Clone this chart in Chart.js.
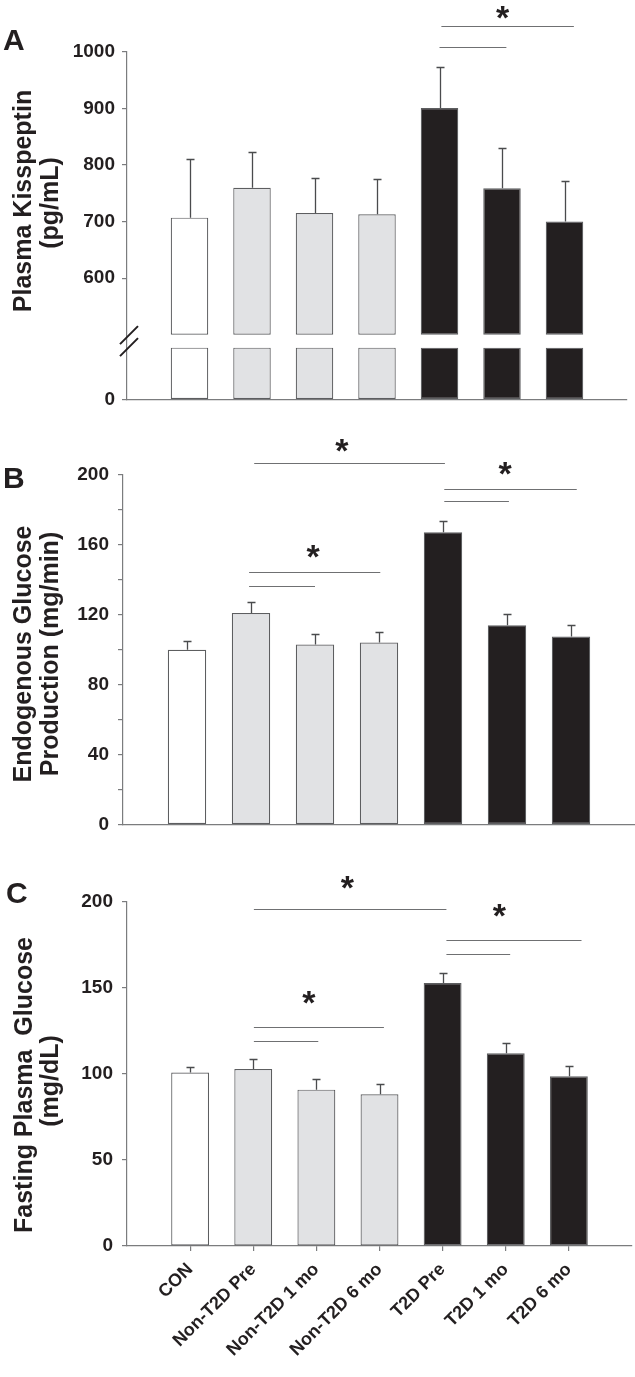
<!DOCTYPE html>
<html>
<head>
<meta charset="utf-8">
<script src="https://cdn.jsdelivr.net/npm/chart.js@4.4.1/dist/chart.umd.min.js"></script>
<style>
  html, body { margin: 0; padding: 0; background: #ffffff; }
  #wrap { position: relative; width: 635px; height: 1377px; overflow: hidden; }
  canvas { position: absolute; left: 0; }
</style>
</head>
<body>
<div id="wrap">
  <canvas id="cA" width="635" height="418" style="top:0px"></canvas>
  <canvas id="cB" width="635" height="427" style="top:418px"></canvas>
  <canvas id="cC" width="635" height="532" style="top:845px"></canvas>
</div>
<script>
// ---------------- DATA ----------------
const categories = ['CON', 'Non-T2D Pre', 'Non-T2D 1 mo', 'Non-T2D 6 mo', 'T2D Pre', 'T2D 1 mo', 'T2D 6 mo'];

// Panel A: Plasma Kisspeptin (pg/mL)
const kisspeptinMean = [707, 760, 715, 713, 901, 759, 700];
const kisspeptinSem  = [103, 63, 63, 63, 72, 71, 71];
const kisspeptinTicks = [0, 600, 700, 800, 900, 1000];

// Panel B: Endogenous Glucose Production (mg/min)
const egpMean = [100, 121, 103, 104.2, 167.3, 114.1, 107.6];
const egpSem  = [5.3, 6.2, 5.9, 5.8, 6.5, 6.5, 6.5];

// Panel C: Fasting Plasma Glucose (mg/dL)
const fpgMean = [100.8, 102.9, 90.9, 88.2, 152.9, 112, 98.7];
const fpgSem  = [3.1, 5.8, 6.0, 5.8, 5.8, 6.0, 6.0];

// Significance brackets: [from category position, to category position, y value]
const kissBrackets = [[5.0, 6.07, 1009], [5.03, 7.15, 1046]];
const kissStars    = [[6.01, 1069]];
const egpBrackets  = [[2.05, 5.03, 206.7], [5.02, 7.09, 192.2], [5.02, 6.03, 184.9], [1.97, 4.02, 144.5], [1.97, 3.0, 136.7]];
const egpStars     = [[3.42, 216.8], [5.97, 203.9], [2.97, 156.3]];
const fpgBrackets  = [[2.01, 5.06, 195.9], [5.06, 7.2, 178.1], [5.06, 6.07, 169.8], [2.01, 4.07, 127.1], [2.01, 3.03, 119]];
const fpgStars     = [[3.49, 211.6], [5.9, 194.8], [2.88, 144.2]];

// ---------------- STYLE ----------------
const groupFill = ['#ffffff', '#e1e2e4', '#e1e2e4', '#e1e2e4', '#231f20', '#231f20', '#231f20'];
const BAR_BORDER = '#5d5e60';
const AXIS = '#7b7c7e';
const TEXT = '#231f20';
const FONT = "'Liberation Sans', Arial, sans-serif";

// ---------------- BROKEN AXIS SCALE (panel A) ----------------
class BrokenScale extends Chart.LinearScale {
  _dec(v) {
    const o = this.options.broken;
    const hi = 1 - o.lowFrac - o.gapFrac;
    if (v <= o.lowMax) return v / o.lowMax * o.lowFrac;
    if (v < o.highMin) return o.lowFrac + (v - o.lowMax) / (o.highMin - o.lowMax) * o.gapFrac;
    return o.lowFrac + o.gapFrac + (v - o.highMin) / (this.max - o.highMin) * hi;
  }
  getPixelForValue(v) {
    if (v === null || v === undefined) return NaN;
    return this.getPixelForDecimal(this._dec(v));
  }
  getValueForPixel(p) {
    const o = this.options.broken;
    const d = this.getDecimalForPixel(p);
    const hi = 1 - o.lowFrac - o.gapFrac;
    if (d <= o.lowFrac) return d / o.lowFrac * o.lowMax;
    if (d < o.lowFrac + o.gapFrac) return o.lowMax + (d - o.lowFrac) / o.gapFrac * (o.highMin - o.lowMax);
    return o.highMin + (d - o.lowFrac - o.gapFrac) / hi * (this.max - o.highMin);
  }
}
BrokenScale.id = 'broken';
BrokenScale.defaults = Chart.LinearScale.defaults;
Chart.register(BrokenScale);

// ---------------- PLUGIN: error bars, brackets, stars, labels ----------------
const annotPlugin = {
  id: 'annot',
  afterDatasetsDraw(chart, args, o) {
    const ctx = chart.ctx, xs = chart.scales.x, ys = chart.scales.y;
    ctx.save();
    // error bars (upper only)
    ctx.strokeStyle = '#4a4b4d';
    ctx.lineWidth = 1.3;
    o.mean.forEach((m, i) => {
      const x = Math.round(xs.getPixelForValue(i + 1)) + 0.5;
      const y0 = ys.getPixelForValue(m);
      const y1 = Math.round(ys.getPixelForValue(m + o.sem[i])) + 0.5;
      ctx.beginPath();
      ctx.moveTo(x, y0); ctx.lineTo(x, y1);
      ctx.moveTo(x - 4, y1); ctx.lineTo(x + 4, y1);
      ctx.stroke();
    });
    // significance brackets
    ctx.strokeStyle = '#6f7072';
    ctx.lineWidth = 1.2;
    o.brackets.forEach(([a, b, v]) => {
      const y = Math.round(ys.getPixelForValue(v)) + 0.5;
      ctx.beginPath();
      ctx.moveTo(xs.getPixelForValue(a), y);
      ctx.lineTo(xs.getPixelForValue(b), y);
      ctx.stroke();
    });
    // stars
    ctx.fillStyle = TEXT;
    ctx.font = 'bold 34px ' + FONT;
    ctx.textAlign = 'center';
    ctx.textBaseline = 'alphabetic';
    const m = ctx.measureText('*');
    const off = (m.actualBoundingBoxAscent - m.actualBoundingBoxDescent) / 2;
    o.stars.forEach(([a, v]) => {
      ctx.fillText('*', xs.getPixelForValue(a), ys.getPixelForValue(v) + off);
    });
    // axis break marks
    if (o.breakMarks) {
      const ax = ys.right;
      const c = (ys.getPixelForValue(ys.options.broken.lowMax) + ys.getPixelForValue(ys.options.broken.highMin)) / 2;
      ctx.strokeStyle = TEXT;
      ctx.lineWidth = 2;
      ctx.beginPath();
      ctx.moveTo(ax - 7, c + 3); ctx.lineTo(ax + 11, c - 15);
      ctx.moveTo(ax - 7, c + 15); ctx.lineTo(ax + 11, c - 3);
      ctx.stroke();
    }
    ctx.restore();
  },
  afterDraw(chart, args, o) {
    const ctx = chart.ctx;
    ctx.save();
    ctx.fillStyle = TEXT;
    // panel letter
    ctx.font = 'bold 30px ' + FONT;
    ctx.textAlign = 'left';
    ctx.textBaseline = 'alphabetic';
    ctx.fillText(o.letter.text, o.letter.x, o.letter.y);
    // y-axis title lines (rotated)
    ctx.font = 'bold 25px ' + FONT;
    ctx.textAlign = 'center';
    o.title.forEach(t => {
      ctx.save();
      ctx.translate(t.x, t.cy);
      ctx.rotate(-Math.PI / 2);
      ctx.scale(1, 1.05);
      ctx.fillText(t.text, 0, 0);
      ctx.restore();
    });
    ctx.restore();
  }
};

// ---------------- BUILDERS ----------------
function barDataset(values) {
  return {
    data: values.map((v, i) => ({ x: i + 1, y: v })),
    backgroundColor: groupFill,
    borderColor: BAR_BORDER,
    borderWidth: 1.2,
    borderSkipped: false,
    barPercentage: 0.6,
    categoryPercentage: 1.0,
    grouped: false
  };
}

function xScale(showLabels, height) {
  return {
    type: 'linear',
    min: 0, max: 8,
    offset: false,
    afterFit: s => { s.height = height; },
    border: { display: true, color: AXIS, width: 1.2 },
    grid: {
      display: showLabels, drawOnChartArea: false, drawTicks: showLabels, offset: false,
      tickLength: 5, color: AXIS, lineWidth: 1.2
    },
    ticks: {
      display: showLabels,
      stepSize: 1,
      autoSkip: false,
      minRotation: 45, maxRotation: 45,
      padding: 8,
      color: TEXT,
      font: { family: FONT, size: 18, weight: 'bold' },
      callback: v => (v >= 1 && v <= categories.length && Number.isInteger(v)) ? categories[v - 1] : null
    }
  };
}

function yGrid() {
  return { display: true, drawOnChartArea: false, drawTicks: true, tickLength: 5, color: AXIS, lineWidth: 1.2 };
}

const common = {
  responsive: false,
  animation: false,
  devicePixelRatio: 1,
  events: [],
  plugins: { legend: { display: false }, tooltip: { enabled: false } }
};

const tickFont = { family: FONT, size: 19, weight: 'bold' };

// ---------------- PANEL A ----------------
const BREAK_LOW = 100, BREAK_HIGH = 500;
new Chart(document.getElementById('cA'), {
  type: 'bar',
  data: {
    datasets: [
      barDataset(kisspeptinMean.map(v => [BREAK_HIGH, v])),
      barDataset(kisspeptinMean.map(v => [0, Math.min(v, BREAK_LOW)]))
    ]
  },
  options: Object.assign({}, common, {
    layout: { padding: { top: 52, right: 8, left: 0, bottom: 0 } },
    scales: {
      x: xScale(false, 18),
      y: {
        type: 'broken',
        min: 0, max: 1000,
        broken: { lowMax: BREAK_LOW, highMin: BREAK_HIGH, lowFrac: 52 / 348, gapFrac: 13 / 348 },
        afterFit: s => { s.width = 127; },
        afterBuildTicks: s => { s.ticks = kisspeptinTicks.map(v => ({ value: v })); },
        border: { display: true, color: AXIS, width: 1.2 },
        grid: yGrid(),
        ticks: { padding: 7, color: TEXT, font: tickFont, callback: v => String(v) }
      }
    },
    plugins: Object.assign({}, common.plugins, {
      annot: {
        mean: kisspeptinMean, sem: kisspeptinSem,
        brackets: kissBrackets, stars: kissStars, breakMarks: true,
        letter: { text: 'A', x: 3, y: 50 },
        title: [
          { text: 'Plasma Kisspeptin', x: 31, cy: 201 },
          { text: '(pg/mL)', x: 58, cy: 203 }
        ]
      }
    })
  }),
  plugins: [annotPlugin]
});

// ---------------- PANEL B ----------------
new Chart(document.getElementById('cB'), {
  type: 'bar',
  data: { datasets: [barDataset(egpMean)] },
  options: Object.assign({}, common, {
    layout: { padding: { top: 57, right: 0, left: 0, bottom: 0 } },
    scales: {
      x: xScale(false, 13),
      y: {
        type: 'linear',
        min: 0, max: 200,
        afterFit: s => { s.width = 123; },
        border: { display: true, color: AXIS, width: 1.2 },
        grid: yGrid(),
        ticks: {
          stepSize: 20, padding: 9, color: TEXT, font: tickFont,
          callback: v => (v % 40 === 0 ? String(v) : '')
        }
      }
    },
    plugins: Object.assign({}, common.plugins, {
      annot: {
        mean: egpMean, sem: egpSem,
        brackets: egpBrackets, stars: egpStars, breakMarks: false,
        letter: { text: 'B', x: 3, y: 488 - 418 },
        title: [
          { text: 'Endogenous Glucose', x: 31, cy: 654 - 418 },
          { text: 'Production (mg/min)', x: 58, cy: 654 - 418 }
        ]
      }
    })
  }),
  plugins: [annotPlugin]
});

// ---------------- PANEL C ----------------
new Chart(document.getElementById('cC'), {
  type: 'bar',
  data: { datasets: [barDataset(fpgMean)] },
  options: Object.assign({}, common, {
    layout: { padding: { top: 57, right: 3, left: 0, bottom: 0 } },
    scales: {
      x: xScale(true, 131),
      y: {
        type: 'linear',
        min: 0, max: 200,
        afterFit: s => { s.width = 127; },
        border: { display: true, color: AXIS, width: 1.2 },
        grid: yGrid(),
        ticks: { stepSize: 50, padding: 9, color: TEXT, font: tickFont }
      }
    },
    plugins: Object.assign({}, common.plugins, {
      annot: {
        mean: fpgMean, sem: fpgSem,
        brackets: fpgBrackets, stars: fpgStars, breakMarks: false,
        letter: { text: 'C', x: 6, y: 903 - 845 },
        title: [
          { text: 'Fasting Plasma  Glucose', x: 32, cy: 1085 - 845 },
          { text: '(mg/dL)', x: 58, cy: 1081 - 845 }
        ]
      }
    })
  }),
  plugins: [annotPlugin]
});
</script>
</body>
</html>
